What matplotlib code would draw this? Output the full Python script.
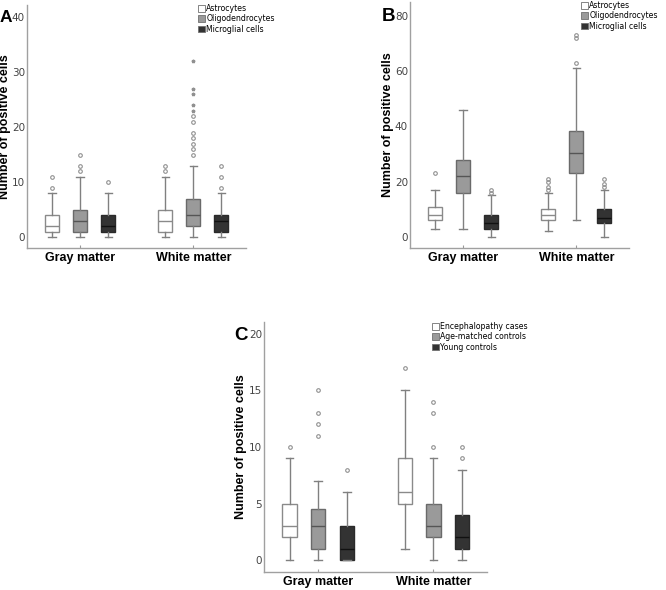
#!/usr/bin/env python3

import matplotlib
matplotlib.use('Agg')
import matplotlib.pyplot as plt
from matplotlib.patches import Patch

# categories on the x axis
groups = ['Gray matter', 'White matter']

# panel A / B series
cell_types = ['Astrocytes', 'Oligodendrocytes', 'Microglial cells']
# panel C series
case_types = ['Encephalopathy cases', 'Age-matched controls', 'Young controls']

# five-number summaries per group: [whisker low, Q1, median, Q3, whisker high]
a_astro = [[0, 1, 2, 4, 8], [0, 1, 3, 5, 11]]
a_oligo = [[0, 1, 3, 5, 11], [0, 2, 4, 7, 13]]
a_micro = [[0, 1, 2, 4, 8], [0, 1, 3, 4, 8]]
a_astro_out = [[9, 11], [12, 13]]
a_oligo_out = [[12, 13, 15], [15, 16, 17, 18, 19, 21, 22]]
a_micro_out = [[10], [9, 11, 13]]
a_oligo_ext = [[], [23, 24, 26, 27, 32]]

b_astro = [[3, 6, 8, 11, 17], [2, 6, 8, 10, 16]]
b_oligo = [[3, 16, 22, 28, 46], [6, 23, 30.5, 38.5, 61]]
b_micro = [[0, 3, 5, 8, 15], [0, 5, 7, 10, 17]]
b_astro_out = [[23], [17, 18, 20, 21]]
b_oligo_out = [[], [63, 72, 73]]
b_micro_out = [[16, 17], [18, 19, 21]]

c_enc = [[0, 2, 3, 5, 9], [1, 5, 6, 9, 15]]
c_age = [[0, 1, 3, 4.5, 7], [0, 2, 3, 5, 9]]
c_young = [[0, 0, 1, 3, 6], [0, 1, 2, 4, 8]]
c_enc_out = [[10], [17]]
c_age_out = [[11, 12, 13, 15], [10, 13, 14]]
c_young_out = [[8], [9, 10]]

a_yticks = [0, 10, 20, 30, 40]
b_yticks = [0, 20, 40, 60, 80]
c_yticks = [0, 5, 10, 15, 20]

W, H = 666, 590
fills = ['#ffffff', '#9a9a9a', '#333333']
edges = ['#8a8a8a', '#6a6a6a', '#2a2a2a']
medians = ['#8a8a8a', '#555555', '#111111']
offsets = [-0.248, 0.0, 0.248]


def px_axes(fig, left, top, right, bottom):
    return fig.add_axes([left / W, (H - bottom) / H, (right - left) / W, (bottom - top) / H])


def draw_panel(ax, series, outliers, extremes, ylim, yticks):
    for i, s in enumerate(series):
        for g in range(len(groups)):
            lo, q1, med, q3, hi = s[g]
            stats = [dict(whislo=lo, q1=q1, med=med, q3=q3, whishi=hi,
                          fliers=outliers[i][g])]
            ax.bxp(stats, positions=[g + offsets[i]], widths=0.124,
                   patch_artist=True, manage_ticks=False, capwidths=0.066,
                   boxprops=dict(facecolor=fills[i], edgecolor=edges[i], linewidth=1),
                   medianprops=dict(color=medians[i], linewidth=1),
                   whiskerprops=dict(color='#808080', linewidth=1),
                   capprops=dict(color='#808080', linewidth=1),
                   flierprops=dict(marker='o', markersize=2.6, markerfacecolor='none',
                                   markeredgecolor='#909090', markeredgewidth=0.8))
            if extremes is not None and extremes[i][g]:
                ax.plot([g + offsets[i]] * len(extremes[i][g]), extremes[i][g],
                        linestyle='none', marker='*', markersize=2.5, color='#909090')
    ax.set_xlim(-0.47, 1.465)
    ax.set_ylim(*ylim)
    ax.set_xticks(range(len(groups)))
    ax.set_xticklabels(groups, fontsize=9, fontweight='bold', family='Liberation Sans')
    ax.set_yticks(yticks)
    ax.set_yticklabels([str(t) for t in yticks], fontsize=7.5, color='#444444')
    ax.tick_params(axis='y', length=0, pad=1.5)
    ax.tick_params(axis='x', direction='in', length=2.5, color='#999999', pad=3)
    for side in ['top', 'right']:
        ax.spines[side].set_visible(False)
    for side in ['left', 'bottom']:
        ax.spines[side].set_color('#a0a0a0')
        ax.spines[side].set_linewidth(1)
    ax.set_ylabel('Number of positive cells', fontsize=9, fontweight='bold',
                  family='Liberation Sans')


def add_legend(fig, labels, x, y):
    handles = [Patch(facecolor=fills[i], edgecolor='#707070', linewidth=0.6)
               for i in range(3)]
    fig.legend(handles, labels, loc='upper left', bbox_to_anchor=(x / W, 1 - y / H),
               frameon=False, fontsize=5.6, handlelength=0.9, handleheight=0.9,
               handletextpad=0.15, labelspacing=0.18, borderpad=0, borderaxespad=0)


fig = plt.figure(figsize=(W / 100, H / 100), dpi=100)

ax_a = px_axes(fig, 27, 5, 246, 248)
draw_panel(ax_a, [a_astro, a_oligo, a_micro],
           [a_astro_out, a_oligo_out, a_micro_out],
           [[[], []], a_oligo_ext, [[], []]], (-2, 42.2), a_yticks)
ax_a.yaxis.set_label_coords(-0.074, 0.5)
add_legend(fig, cell_types, 198, 4)
fig.text(0, 1 - 22 / H, 'A', fontsize=12.5, fontweight='bold', family='Liberation Sans')

ax_b = px_axes(fig, 410, 2, 629, 248)
draw_panel(ax_b, [b_astro, b_oligo, b_micro],
           [b_astro_out, b_oligo_out, b_micro_out],
           None, (-4, 85), b_yticks)
ax_b.yaxis.set_label_coords(-0.074, 0.5)
add_legend(fig, cell_types, 581, 1)
fig.text(382 / W, 1 - 21 / H, 'B', fontsize=13.5, fontweight='bold', family='Liberation Sans')

ax_c = px_axes(fig, 264, 322, 487, 572)
draw_panel(ax_c, [c_enc, c_age, c_young],
           [c_enc_out, c_age_out, c_young_out],
           None, (-1.06, 21.06), c_yticks)
ax_c.yaxis.set_label_coords(-0.078, 0.5)
add_legend(fig, case_types, 432, 322)
fig.text(234 / W, 1 - 340 / H, 'C', fontsize=13.5, fontweight='bold', family='Liberation Sans')

fig.savefig('out.png', dpi=100)
plt.close(fig)
